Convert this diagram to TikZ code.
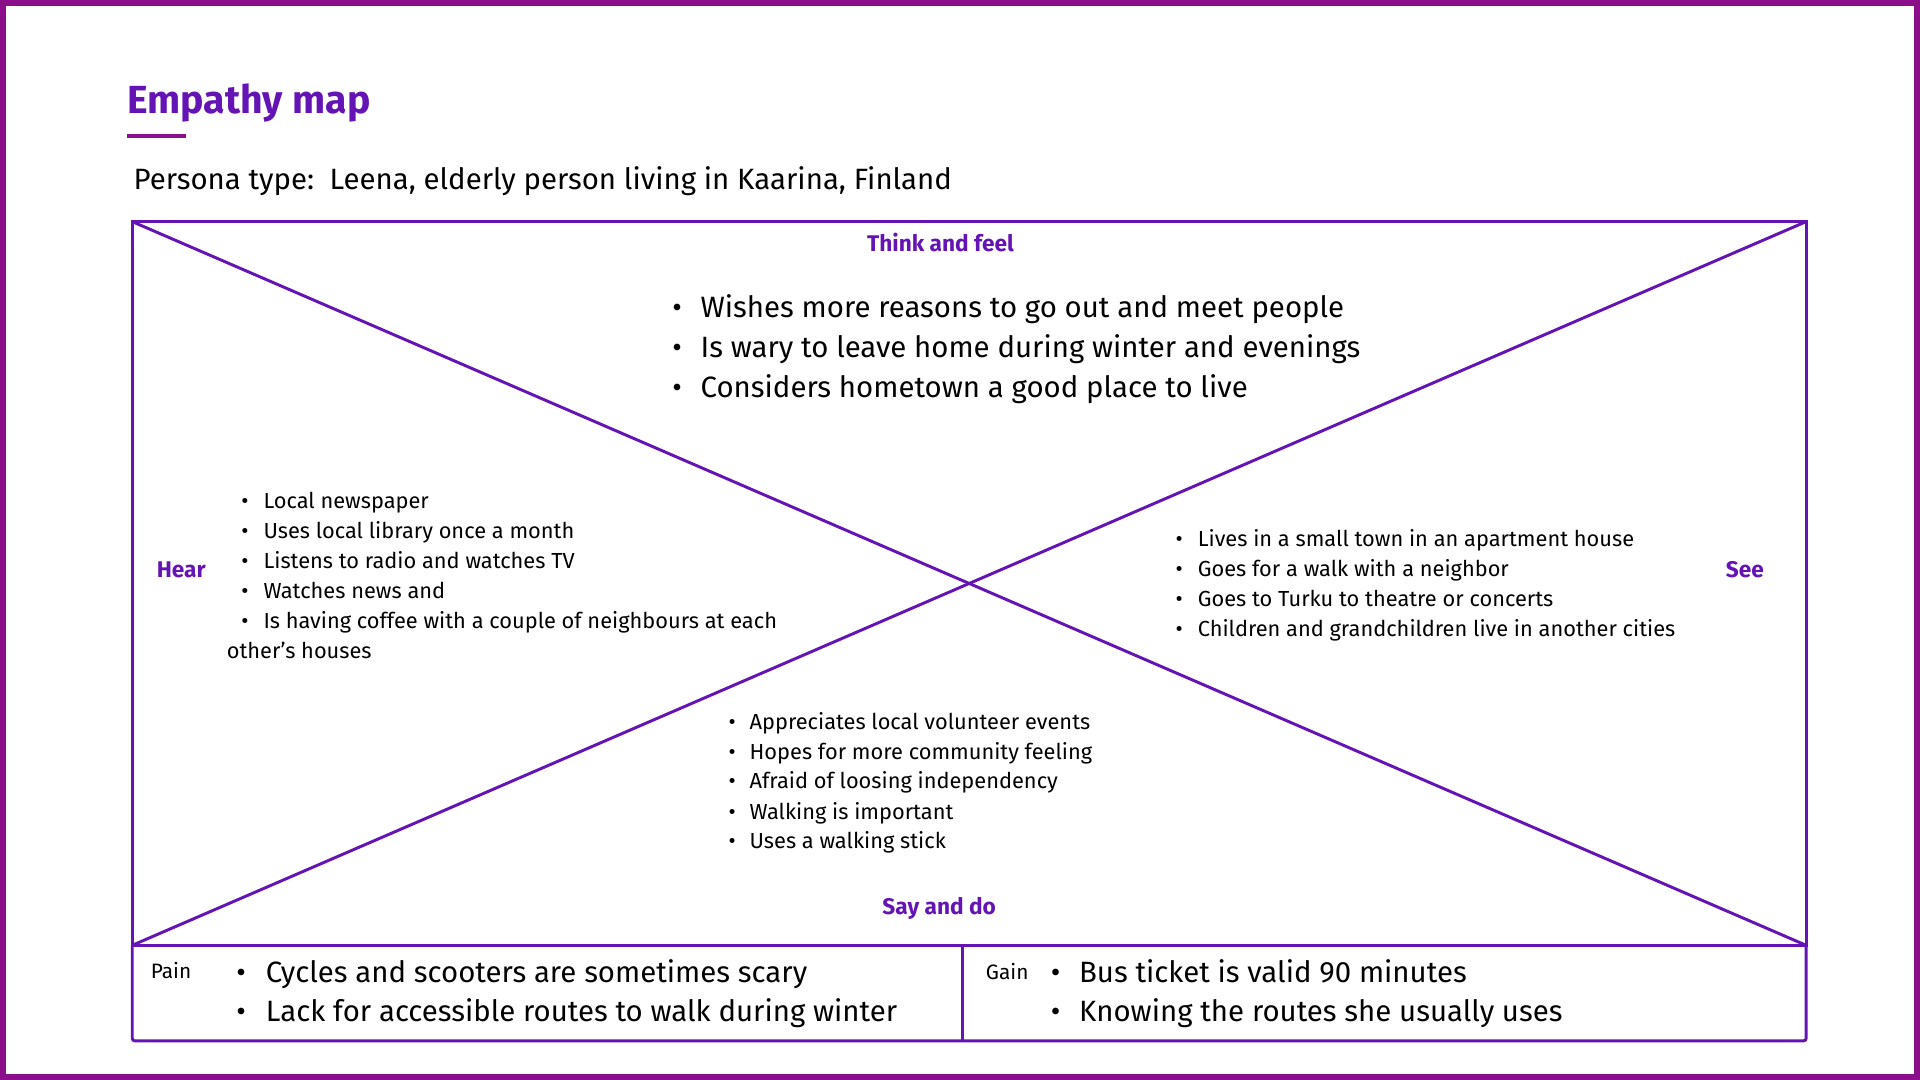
\documentclass[tikz,border=0pt]{standalone}
\usepackage{fontspec}
\setmainfont{Fira Sans}
\usetikzlibrary{positioning}
\definecolor{framepurple}{RGB}{139,14,139}
\definecolor{mapviolet}{RGB}{100,20,180}
\tikzset{
	mapline/.style={draw=mapviolet, line width=2.4pt},
	quadlabel/.style={font=\fontsize{18.5}{22}\selectfont\bfseries, text=mapviolet, anchor=base, inner sep=0},
	smallitem/.style={font=\fontsize{17.8}{21}\selectfont, anchor=base west, inner sep=0},
	bigitem/.style={font=\fontsize{24}{28}\selectfont, anchor=base west, inner sep=0},
	smalldot/.style={font=\fontsize{18}{21}\selectfont, anchor=base, inner sep=0},
	bigdot/.style={font=\fontsize{24}{28}\selectfont, anchor=base, inner sep=0}
}

\begin{document}
\begin{tikzpicture}[x=1pt, y=-1pt]
	\useasboundingbox (0,0) rectangle (1568,882);
	\draw[framepurple, line width=5pt] (2.5,2.5) rectangle (1565.5,879.5);

	% title and persona
	\node[font=\fontsize{32}{36}\selectfont\bfseries, text=mapviolet, anchor=base west, inner sep=0] (title) at (104,93) {Empathy map};
	\coordinate (ulA) at (104,111);
	\coordinate (ulB) at (152,111);
	\draw[framepurple, line width=3pt] (ulA) -- (ulB);
	\node[font=\fontsize{24}{28}\selectfont, anchor=base west, inner sep=0] (persona) at (109,155) {Persona type:\ \ Leena, elderly person living in Kaarina, Finland};

	% the map with its two diagonals
	\coordinate (nw) at (108,181);
	\coordinate (ne) at (1475,181);
	\coordinate (sw) at (108,772);
	\coordinate (se) at (1475,772);
	\draw[mapline] (nw) rectangle (se);
	\draw[mapline] (nw) -- (se);
	\draw[mapline] (sw) -- (ne);

	% pain and gain
	\coordinate (pgsw) at (108,850);
	\coordinate (pgse) at (1475,850);
	\coordinate (midtop) at (786,772);
	\coordinate (midbot) at (786,850);
	\draw[mapline, rounded corners=2pt] (sw) -- (pgsw) -- (pgse) -- (se);
	\draw[mapline] (midtop) -- (midbot);

	\node[quadlabel] (think) at (768,205) {Think and feel};
	\node[quadlabel] (hear) at (148,472) {Hear};
	\node[quadlabel] (see) at (1425,472) {See};
	\node[quadlabel] (say) at (767,747) {Say and do};

	\foreach \y/\t [count=\i] in {259/Wishes more reasons to go out and meet people,
		292/Is wary to leave home during winter and evenings,
		325/Considers hometown a good place to live} {
		\node[bigitem] (think\i) at (572,\y) {\t};
		\node[bigdot] at (553,\y) {\textbullet};
	};
	\foreach \y/\t [count=\i] in {415/Local newspaper,
		439.5/Uses local library once a month,
		464/Listens to radio and watches TV,
		488.5/Watches news and,
		513/Is having coffee with a couple of neighbours at each} {
		\node[smallitem] (hear\i) at (215,\y) {\t};
		\node[smalldot] at (200,\y) {\textbullet};
	};
	\node[smallitem] (hear6) at (185,537.5) {other’s houses};
	\foreach \y/\t [count=\i] in {446/Lives in a small town in an apartment house,
		471/Goes for a walk with a neighbor,
		495/Goes to Turku to theatre or concerts,
		520/Children and grandchildren live in another cities} {
		\node[smallitem] (see\i) at (978,\y) {\t};
		\node[smalldot] at (963,\y) {\textbullet};
	};
	\foreach \y/\t [count=\i] in {596/Appreciates local volunteer events,
		620/Hopes for more community feeling,
		644/Afraid of loosing independency,
		669/Walking is important,
		693/Uses a walking stick} {
		\node[smallitem] (say\i) at (612,\y) {\t};
		\node[smalldot] at (598,\y) {\textbullet};
	};

	\node[smallitem, font=\fontsize{17}{20}\selectfont] (pain) at (123,799) {Pain};
	\node[smallitem, font=\fontsize{17}{20}\selectfont] (gain) at (805,800) {Gain};
	\foreach \y/\t [count=\i] in {802/Cycles and scooters are sometimes scary,
		834/Lack for accessible routes to walk during winter} {
		\node[bigitem] (pain\i) at (217,\y) {\t};
		\node[bigdot] at (197,\y) {\textbullet};
	};
	\foreach \y/\t [count=\i] in {802/Bus ticket is valid 90 minutes,
		834/Knowing the routes she usually uses} {
		\node[bigitem] (gain\i) at (881,\y) {\t};
		\node[bigdot] at (862,\y) {\textbullet};
	};
\end{tikzpicture}
\end{document}
